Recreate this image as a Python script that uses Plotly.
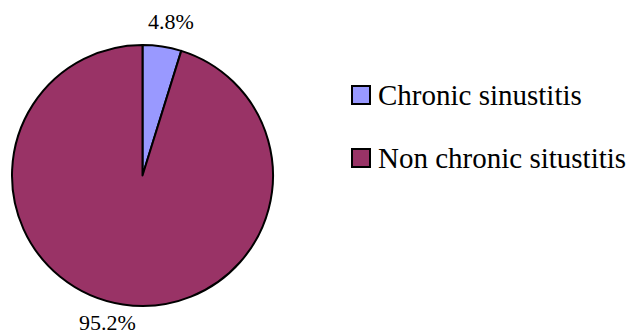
import plotly.graph_objects as go

labels = ["Chronic sinustitis", "Non chronic situstitis"]
values = [4.8, 95.2]
colors = ["#9999FF", "#993366"]
value_texts = [f"{v:.1f}%" for v in values]

W, H = 634, 336
FONT = "'Liberation Serif', 'DejaVu Serif', serif"

fig = go.Figure()
fig.add_trace(go.Pie(
    labels=labels,
    values=values,
    sort=False,
    direction="clockwise",
    rotation=0,
    marker=dict(colors=colors, line=dict(color="black", width=2)),
    textinfo="none",
    hoverinfo="label+percent",
    showlegend=False,
    domain=dict(x=[12 / W, 273 / W], y=[1 - 306 / H, 1 - 45 / H]),
))

# percentage labels outside the pie
label_pos = [(171, 21), (107, 322)]
annotations = []
for txt, (px, py) in zip(value_texts, label_pos):
    annotations.append(dict(
        x=px / W, y=1 - py / H, xref="paper", yref="paper",
        text=txt, showarrow=False, xanchor="center", yanchor="middle",
        font=dict(family=FONT, size=22, color="black"),
    ))

# legend
shapes = []
legend_rows = [95, 158]
for lab, col, ry in zip(labels, colors, legend_rows):
    shapes.append(dict(
        type="rect", xref="paper", yref="paper",
        x0=352 / W, x1=370 / W, y0=1 - (ry + 9) / H, y1=1 - (ry - 9) / H,
        fillcolor=col, line=dict(color="black", width=2),
    ))
    annotations.append(dict(
        x=376 / W, y=1 - ry / H, xref="paper", yref="paper",
        text=lab, showarrow=False, xanchor="left", yanchor="middle",
        font=dict(family=FONT, size=29, color="black"),
    ))

fig.update_layout(
    width=W, height=H,
    margin=dict(l=0, r=0, t=0, b=0),
    paper_bgcolor="white", plot_bgcolor="white",
    font=dict(family=FONT),
    annotations=annotations,
    shapes=shapes,
)

fig.write_html("out.html")
